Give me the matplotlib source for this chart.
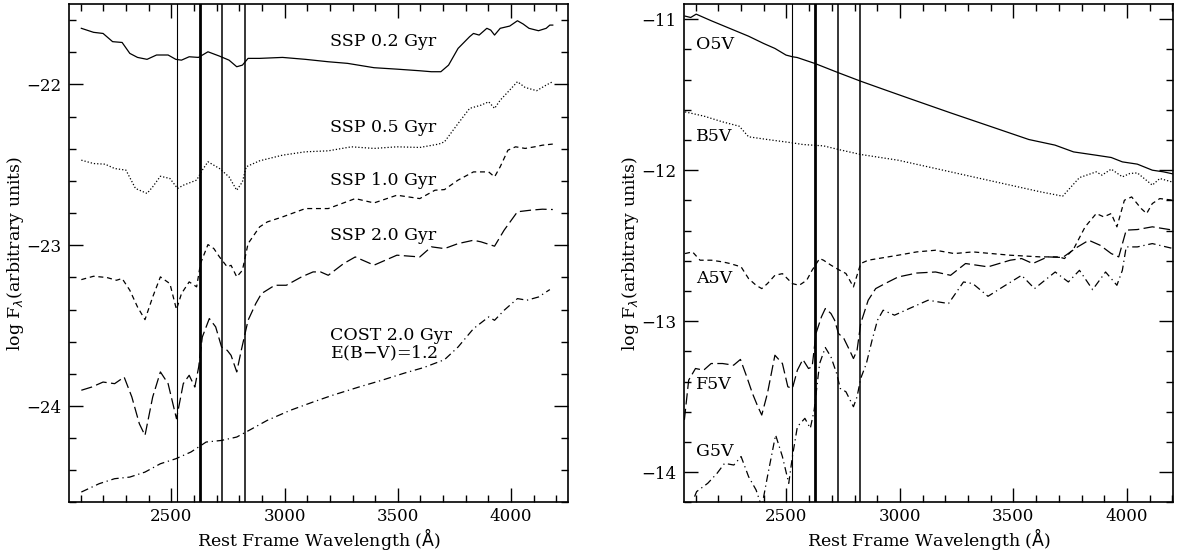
import numpy as np
import matplotlib
matplotlib.use("Agg")
import matplotlib.pyplot as plt
from matplotlib.ticker import MultipleLocator

plt.rcParams['font.family'] = ['DejaVu Serif']
plt.rcParams['font.size'] = 12

# ---------------- left panel: SSP / COST models ----------------
ssp02_w = [2103, 2157, 2199, 2241, 2283, 2317, 2351, 2393, 2435, 2486, 2520, 2545, 2579, 2620,
           2662, 2713, 2755, 2789, 2814, 2839, 2890, 2991, 3092, 3193, 3278, 3395, 3496, 3597,
           3648, 3690, 3724, 3766, 3817, 3834, 3859, 3893, 3910, 3927, 3952, 3994, 4028, 4053,
           4079, 4121, 4155, 4171, 4184]
ssp02_f = [-21.651, -21.676, -21.683, -21.734, -21.739, -21.807, -21.832, -21.844, -21.817,
           -21.817, -21.844, -21.849, -21.828, -21.832, -21.797, -21.824, -21.849, -21.890,
           -21.880, -21.838, -21.838, -21.832, -21.844, -21.859, -21.869, -21.896, -21.905,
           -21.915, -21.921, -21.921, -21.880, -21.776, -21.703, -21.683, -21.693, -21.651,
           -21.662, -21.693, -21.651, -21.637, -21.604, -21.624, -21.651, -21.666, -21.651,
           -21.631, -21.631]

ssp05_w = [2103, 2157, 2208, 2250, 2300, 2342, 2393, 2418, 2452, 2494, 2528, 2553, 2612, 2637,
           2662, 2713, 2755, 2789, 2814, 2831, 2890, 2991, 3092, 3193, 3295, 3395, 3496, 3597,
           3681, 3706, 3766, 3817, 3867, 3901, 3927, 3952, 3994, 4028, 4062, 4113, 4155, 4184]
ssp05_f = [-22.471, -22.492, -22.496, -22.523, -22.533, -22.647, -22.678, -22.637, -22.571,
           -22.585, -22.647, -22.627, -22.595, -22.533, -22.481, -22.523, -22.575, -22.658,
           -22.606, -22.512, -22.475, -22.440, -22.419, -22.413, -22.388, -22.398, -22.388,
           -22.392, -22.371, -22.357, -22.243, -22.149, -22.129, -22.108, -22.149, -22.098,
           -22.035, -21.983, -22.019, -22.039, -22.004, -21.983]

ssp10_w = [2103, 2157, 2216, 2258, 2283, 2317, 2351, 2384, 2418, 2452, 2494, 2523, 2545, 2579,
           2612, 2629, 2662, 2688, 2713, 2747, 2764, 2789, 2814, 2839, 2890, 2924, 2991, 3092,
           3193, 3312, 3395, 3496, 3597, 3664, 3706, 3766, 3834, 3901, 3927, 3952, 3986, 4020,
           4062, 4104, 4138, 4184]
ssp10_f = [-23.214, -23.193, -23.201, -23.218, -23.207, -23.280, -23.384, -23.463, -23.322,
           -23.197, -23.239, -23.400, -23.301, -23.228, -23.259, -23.114, -22.996, -23.021,
           -23.073, -23.135, -23.125, -23.197, -23.156, -22.990, -22.886, -22.855, -22.824,
           -22.772, -22.772, -22.710, -22.737, -22.689, -22.710, -22.658, -22.654, -22.595,
           -22.544, -22.544, -22.575, -22.512, -22.409, -22.388, -22.398, -22.388, -22.378,
           -22.371]

ssp20_w = [2103, 2149, 2199, 2250, 2292, 2326, 2359, 2384, 2418, 2452, 2486, 2523, 2553, 2579,
           2604, 2621, 2637, 2668, 2696, 2722, 2747, 2764, 2789, 2809, 2839, 2873, 2898, 2957,
           3008, 3075, 3126, 3159, 3193, 3261, 3312, 3395, 3496, 3597, 3648, 3706, 3766, 3834,
           3867, 3927, 3969, 4028, 4087, 4138, 4184]
ssp20_f = [-23.902, -23.882, -23.851, -23.861, -23.820, -23.944, -24.110, -24.183, -23.944,
           -23.788, -23.861, -24.079, -23.861, -23.809, -23.882, -23.757, -23.571, -23.456,
           -23.508, -23.633, -23.654, -23.685, -23.788, -23.654, -23.467, -23.363, -23.301,
           -23.249, -23.249, -23.197, -23.166, -23.166, -23.187, -23.114, -23.073, -23.124,
           -23.062, -23.073, -23.010, -23.021, -22.990, -22.969, -22.979, -23.006, -22.907,
           -22.792, -22.782, -22.776, -22.778]

cost_w = [2103, 2182, 2250, 2317, 2384, 2452, 2520, 2587, 2654, 2722, 2789, 2857, 2924, 3025,
          3126, 3210, 3328, 3429, 3530, 3614, 3706, 3766, 3834, 3901, 3927, 3969, 4028, 4070,
          4121, 4171]
cost_f = [-24.535, -24.483, -24.452, -24.442, -24.411, -24.359, -24.328, -24.286, -24.224,
          -24.214, -24.193, -24.141, -24.089, -24.027, -23.975, -23.934, -23.882, -23.840,
          -23.795, -23.761, -23.712, -23.633, -23.519, -23.446, -23.467, -23.405, -23.332,
          -23.342, -23.322, -23.276]

# ---------------- right panel: stellar templates ----------------
o5v_w = [2053, 2078, 2102, 2169, 2251, 2333, 2399, 2449, 2498, 2526, 2547, 2626, 2729, 2827,
         2926, 3041, 3222, 3404, 3568, 3683, 3765, 3865, 3931, 3980, 4046, 4112, 4161, 4204]
o5v_f = [-10.980, -10.989, -10.967, -11.011, -11.062, -11.113, -11.161, -11.194, -11.238,
         -11.249, -11.254, -11.294, -11.355, -11.411, -11.464, -11.525, -11.620, -11.713,
         -11.797, -11.834, -11.879, -11.901, -11.916, -11.945, -11.960, -12.000, -12.011,
         -12.025]

b5v_w = [2053, 2136, 2218, 2292, 2333, 2416, 2526, 2572, 2663, 2729, 2827, 2992, 3157, 3321,
         3486, 3618, 3717, 3791, 3865, 3890, 3931, 3980, 4013, 4046, 4112, 4145, 4204]
b5v_f = [-11.614, -11.642, -11.680, -11.709, -11.779, -11.797, -11.819, -11.830, -11.839,
         -11.863, -11.896, -11.934, -11.989, -12.044, -12.099, -12.143, -12.172, -12.049,
         -12.011, -12.033, -11.993, -12.044, -12.022, -12.018, -12.099, -12.055, -12.080]

a5v_w = [2053, 2086, 2119, 2169, 2218, 2251, 2300, 2333, 2366, 2391, 2416, 2449, 2482, 2526,
         2556, 2589, 2613, 2646, 2663, 2696, 2729, 2762, 2795, 2827, 2860, 2992, 3074, 3157,
         3239, 3321, 3486, 3618, 3700, 3725, 3766, 3816, 3865, 3898, 3931, 3956, 3989, 4021,
         4063, 4087, 4112, 4145, 4204]
a5v_f = [-12.552, -12.541, -12.596, -12.596, -12.607, -12.618, -12.640, -12.718, -12.762,
         -12.784, -12.751, -12.696, -12.685, -12.751, -12.762, -12.729, -12.662, -12.585,
         -12.596, -12.629, -12.658, -12.684, -12.773, -12.618, -12.596, -12.563, -12.541,
         -12.530, -12.552, -12.541, -12.563, -12.574, -12.574, -12.585, -12.519, -12.375,
         -12.287, -12.309, -12.287, -12.375, -12.199, -12.177, -12.254, -12.287, -12.221,
         -12.188, -12.199]

f5v_w = [2050, 2069, 2099, 2135, 2168, 2218, 2267, 2297, 2325, 2350, 2374, 2391, 2416, 2449,
         2482, 2506, 2526, 2548, 2572, 2597, 2613, 2630, 2654, 2671, 2696, 2712, 2729, 2753,
         2778, 2795, 2811, 2827, 2860, 2893, 2934, 2992, 3074, 3157, 3223, 3289, 3388, 3486,
         3536, 3585, 3651, 3717, 3783, 3832, 3882, 3931, 3964, 3997, 4046, 4112, 4204]
f5v_f = [-13.654, -13.390, -13.313, -13.324, -13.280, -13.280, -13.291, -13.253, -13.368,
         -13.478, -13.566, -13.621, -13.478, -13.225, -13.280, -13.434, -13.445, -13.324,
         -13.253, -13.313, -13.302, -13.081, -12.971, -12.916, -12.949, -12.993, -13.081,
         -13.115, -13.192, -13.247, -13.192, -13.015, -12.861, -12.784, -12.751, -12.707,
         -12.681, -12.674, -12.696, -12.618, -12.640, -12.596, -12.585, -12.618, -12.574,
         -12.578, -12.508, -12.464, -12.497, -12.552, -12.574, -12.397, -12.393, -12.375,
         -12.397]

g5v_w = [2095, 2104, 2153, 2194, 2227, 2268, 2300, 2333, 2366, 2391, 2416, 2452, 2482, 2510,
         2526, 2548, 2581, 2605, 2622, 2646, 2671, 2696, 2721, 2737, 2762, 2795, 2811, 2827,
         2852, 2877, 2901, 2926, 2976, 3041, 3124, 3214, 3280, 3321, 3388, 3453, 3536, 3593,
         3684, 3742, 3791, 3849, 3906, 3956, 3980, 3997, 4046, 4112, 4204]
g5v_f = [-14.161, -14.128, -14.073, -14.007, -13.941, -13.952, -13.896, -14.029, -14.117,
         -14.230, -14.029, -13.753, -13.896, -14.073, -13.896, -13.698, -13.643, -13.709,
         -13.588, -13.280, -13.174, -13.236, -13.346, -13.445, -13.467, -13.566, -13.500,
         -13.379, -13.280, -13.126, -12.993, -12.927, -12.960, -12.916, -12.861, -12.883,
         -12.740, -12.751, -12.835, -12.773, -12.696, -12.784, -12.674, -12.740, -12.663,
         -12.791, -12.674, -12.762, -12.663, -12.508, -12.508, -12.486, -12.519]

# spectral windows marked by vertical lines
win_lines = [2525, 2625, 2725, 2825]
win_lw = [0.8, 2.0, 1.1, 1.1]

left_labels = ["SSP 0.2 Gyr", "SSP 0.5 Gyr", "SSP 1.0 Gyr", "SSP 2.0 Gyr", "COST 2.0 Gyr\nE(B$-$V)=1.2"]
left_lab_y = [-21.73, -22.27, -22.60, -22.94, -23.62]
right_labels = ["O5V", "B5V", "A5V", "F5V", "G5V"]
right_lab_y = [-11.17, -11.78, -12.72, -13.42, -13.86]

styles = ['-', (0, (1, 1.6)), (0, (4, 3)), (0, (9, 3.5)), (0, (6, 3, 1, 3))]

fig = plt.figure(figsize=(11.83, 5.52), dpi=100)
ax1 = fig.add_axes([0.0586, 0.0897, 0.4213, 0.903])
ax2 = fig.add_axes([0.5785, 0.0897, 0.4134, 0.903])

left_series = [(ssp02_w, ssp02_f), (ssp05_w, ssp05_f), (ssp10_w, ssp10_f),
               (ssp20_w, ssp20_f), (cost_w, cost_f)]
right_series = [(o5v_w, o5v_f), (b5v_w, b5v_f), (a5v_w, a5v_f),
                (f5v_w, f5v_f), (g5v_w, g5v_f)]

for (w, f), ls in zip(left_series, styles):
    ax1.plot(w, f, color='k', lw=0.9, linestyle=ls)
for (w, f), ls in zip(right_series, styles):
    ax2.plot(w, f, color='k', lw=0.9, linestyle=ls)

for lab, y in zip(left_labels, left_lab_y):
    ax1.text(3200, y, lab, va='center', ha='left', fontsize=12.5, linespacing=1.0)
for lab, y in zip(right_labels, right_lab_y):
    ax2.text(2100, y, lab, va='center', ha='left', fontsize=12.5)

for ax in (ax1, ax2):
    for xv, lw in zip(win_lines, win_lw):
        ax.axvline(xv, color='k', lw=lw)
    ax.xaxis.set_major_locator(MultipleLocator(500))
    ax.xaxis.set_minor_locator(MultipleLocator(100))
    ax.yaxis.set_major_locator(MultipleLocator(1))
    ax.yaxis.set_minor_locator(MultipleLocator(0.2))
    ax.tick_params(which='both', direction='in', top=True, right=True, labelsize=12, width=1)
    ax.tick_params(which='major', length=10)
    ax.tick_params(which='minor', length=5)
    ax.tick_params(axis='x', which='major', pad=4)
    ax.tick_params(axis='y', which='major', pad=6)
    for s in ax.spines.values():
        s.set_linewidth(1.2)
    ax.set_xlabel(r"Rest Frame Wavelength ($\mathrm{\AA}$)", fontsize=12.5, labelpad=1)
    ax.set_ylabel(r"log F$_\lambda$(arbitrary units)", fontsize=12.5, labelpad=0)

ax1.set_xlim(2050, 4250)
ax1.set_ylim(-24.6, -21.5)
ax2.set_xlim(2050, 4205)
ax2.set_ylim(-14.2, -10.9)

fig.savefig("out.png", dpi=100)
